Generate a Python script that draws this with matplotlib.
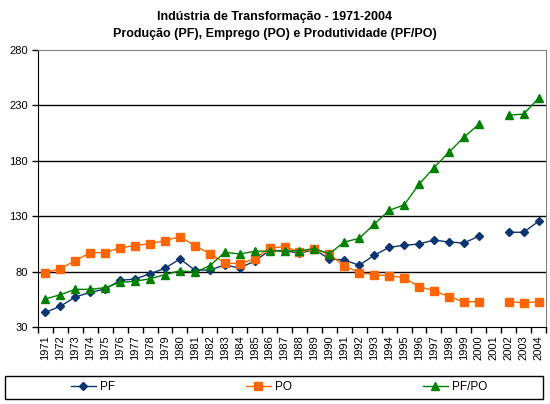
import numpy as np
import matplotlib
matplotlib.use("Agg")
import matplotlib.pyplot as plt
from matplotlib.patches import Rectangle
from matplotlib.ticker import FixedLocator, NullFormatter

plt.rcParams["font.family"] = ["Liberation Sans", "DejaVu Sans"]

anos = [str(a) for a in range(1971, 2005)]
nan = np.nan

# Produção (PF)
pf = [43.3, 48.7, 57.1, 61.3, 64.3, 72.1, 73.3, 78.1, 83.0, 91.4,
      81.4, 81.4, 86.0, 83.2, 89.6, 98.9, 98.9, 96.5, 100.0, 91.4,
      90.5, 85.7, 94.7, 101.9, 103.7, 104.9, 108.5, 106.7, 105.8, 111.9,
      nan, 115.5, 115.5, 125.4]
# Emprego (PO)
po = [79.0, 82.7, 89.9, 97.1, 97.1, 101.6, 103.4, 105.2, 107.9, 111.5,
      103.4, 96.2, 88.0, 86.9, 91.6, 101.3, 102.5, 97.7, 100.4, 95.6,
      85.3, 79.0, 77.2, 76.3, 74.5, 66.4, 62.8, 57.4, 52.8, 52.8,
      nan, 52.8, 51.9, 52.8]
# Produtividade (PF/PO)
pfpo = [55.3, 59.2, 64.0, 64.0, 65.5, 70.3, 71.2, 73.6, 77.2, 80.8,
        79.4, 85.3, 97.4, 95.9, 98.3, 98.6, 98.6, 98.9, 100.7, 96.2,
        106.7, 110.0, 122.7, 135.3, 140.1, 158.8, 173.8, 187.7, 201.2, 212.9,
        nan, 221.1, 222.2, 236.4]

fig = plt.figure(figsize=(5.5, 4.04), dpi=100)
ax = fig.add_axes([38 / 550, 1 - 327 / 404, 508 / 550, 277 / 404])

x = np.arange(len(anos))
ax.plot(x, pf, color="#0a3570", linewidth=1, marker="D", markersize=4.5, label="PF")
ax.plot(x, po, color="#ff6600", linewidth=1, marker="s", markersize=5.5, label="PO")
ax.plot(x, pfpo, color="#008000", linewidth=1, marker="^", markersize=6, label="PF/PO")

ax.set_xlim(-0.5, len(anos) - 0.5)
ax.set_ylim(30, 280)
ax.set_yticks([30, 80, 130, 180, 230, 280])
ax.set_xticks(x)
ax.set_xticklabels(anos, rotation=90, fontsize=8)
ax.xaxis.set_minor_locator(FixedLocator(np.arange(-0.5, len(anos), 1)))
ax.xaxis.set_minor_formatter(NullFormatter())
ax.tick_params(axis="x", which="major", length=0, pad=6)
ax.tick_params(axis="x", which="minor", length=4, direction="out", width=1)
ax.tick_params(axis="y", length=4, direction="out", labelsize=8, width=1)

for y in [80, 130, 180, 230]:
    ax.axhline(y, color="black", linewidth=1, zorder=0)

ax.spines["top"].set_color("#808080")
ax.spines["right"].set_color("#808080")
ax.spines["left"].set_color("black")
ax.spines["bottom"].set_color("black")

fig.text(0.5, 1 - 17 / 404, "Indústria de Transformação - 1971-2004",
         ha="center", va="center", fontsize=9, fontweight="bold")
fig.text(0.5, 1 - 34 / 404, "Produção (PF), Emprego (PO) e Produtividade (PF/PO)",
         ha="center", va="center", fontsize=9, fontweight="bold")

# caixa da legenda
fig.patches.append(Rectangle((5 / 550, 1 - 399 / 404), 538 / 550, 23 / 404,
                             transform=fig.transFigure, fill=False,
                             edgecolor="black", linewidth=1))
leg = fig.legend(loc="center left", ncol=3,
                 bbox_to_anchor=(71 / 550, 1 - 387.5 / 404),
                 fontsize=8.5, frameon=False, borderpad=0, borderaxespad=0,
                 handlelength=2.1, handletextpad=0.35, columnspacing=11.1)

fig.savefig("out.png", dpi=100)
